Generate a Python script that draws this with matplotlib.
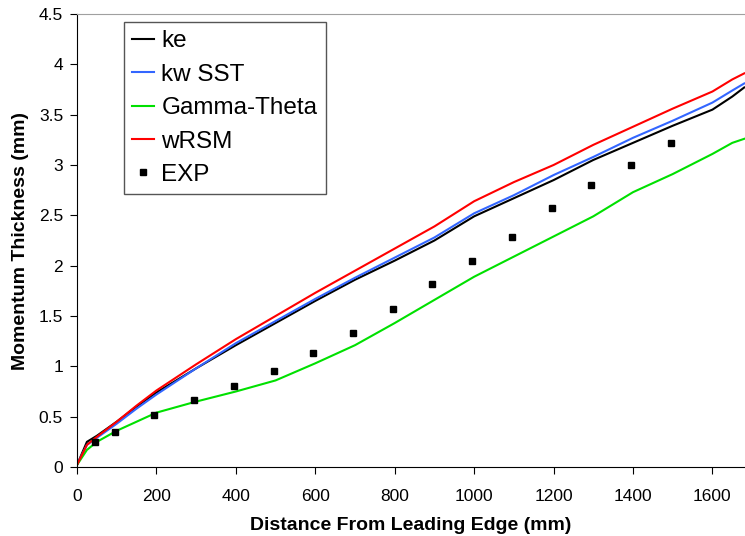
import matplotlib.pyplot as plt

# distance from leading edge (mm)
x_cfd = [0, 25, 50, 100, 150, 200, 300, 400, 500, 600, 700, 800, 900,
         1000, 1100, 1200, 1300, 1400, 1500, 1600, 1650, 1680]

ke = [0.02, 0.25, 0.31, 0.45, 0.60, 0.74, 0.98, 1.21, 1.43, 1.65, 1.86, 2.05, 2.25,
      2.49, 2.67, 2.85, 3.05, 3.22, 3.39, 3.55, 3.68, 3.77]
kw_sst = [0.02, 0.22, 0.29, 0.43, 0.58, 0.72, 0.98, 1.23, 1.45, 1.67, 1.88, 2.08, 2.28,
          2.52, 2.70, 2.90, 3.08, 3.27, 3.44, 3.62, 3.74, 3.81]
gamma_theta = [0.02, 0.17, 0.25, 0.36, 0.45, 0.54, 0.65, 0.75, 0.86, 1.03, 1.21, 1.43, 1.66,
               1.89, 2.09, 2.29, 2.49, 2.73, 2.91, 3.11, 3.22, 3.26]
wrsm = [0.02, 0.22, 0.30, 0.45, 0.61, 0.76, 1.02, 1.27, 1.50, 1.73, 1.95, 2.17, 2.39,
        2.64, 2.83, 3.00, 3.20, 3.38, 3.56, 3.73, 3.85, 3.91]

x_exp = [45, 95, 195, 295, 395, 495, 595, 695, 795, 895, 995, 1095, 1195, 1295, 1395, 1495]
y_exp = [0.25, 0.35, 0.52, 0.67, 0.80, 0.95, 1.13, 1.33, 1.57, 1.82, 2.05, 2.28, 2.57,
         2.80, 3.00, 3.22]

plt.rcParams['font.family'] = ['Liberation Sans', 'DejaVu Sans']

fig = plt.figure(figsize=(7.45, 5.36), dpi=100)
ax = fig.add_axes([77 / 745, 1 - 467 / 536, 668 / 745, 453 / 536])

ax.plot(x_cfd, ke, color='black', lw=1.5, label='ke')
ax.plot(x_cfd, kw_sst, color='#3366ff', lw=1.5, label='kw SST')
ax.plot(x_cfd, gamma_theta, color='#00e000', lw=1.5, label='Gamma-Theta')
ax.plot(x_cfd, wrsm, color='red', lw=1.5, label='wRSM')
ax.plot(x_exp, y_exp, 's', color='black', ms=4.5, ls='none', label='EXP')

ax.set_xlim(0, 1682)
ax.set_ylim(0, 4.5)
ax.set_xticks(range(0, 1601, 200))
ax.set_yticks([0, 0.5, 1, 1.5, 2, 2.5, 3, 3.5, 4, 4.5])
ax.set_yticklabels(['0', '0.5', '1', '1.5', '2', '2.5', '3', '3.5', '4', '4.5'])
ax.tick_params(direction='out', length=5, labelsize=12.5)
ax.tick_params(axis='x', pad=11)
ax.tick_params(axis='y', pad=5)

ax.spines['right'].set_visible(False)
ax.spines['top'].set_color('#a0a0a0')

ax.set_xlabel('Distance From Leading Edge (mm)', fontsize=14, fontweight='bold', labelpad=9)
ax.set_ylabel('Momentum Thickness (mm)', fontsize=14, fontweight='bold', labelpad=7)

leg = ax.legend(loc='upper left', bbox_to_anchor=(0.07, 0.983), borderaxespad=0,
                fontsize=17.5, handlelength=0.9, handletextpad=0.3, labelspacing=0.47,
                fancybox=False, framealpha=1, edgecolor='#555555', borderpad=0.35)
leg.get_frame().set_linewidth(1.0)

fig.savefig('out.png', dpi=100)
